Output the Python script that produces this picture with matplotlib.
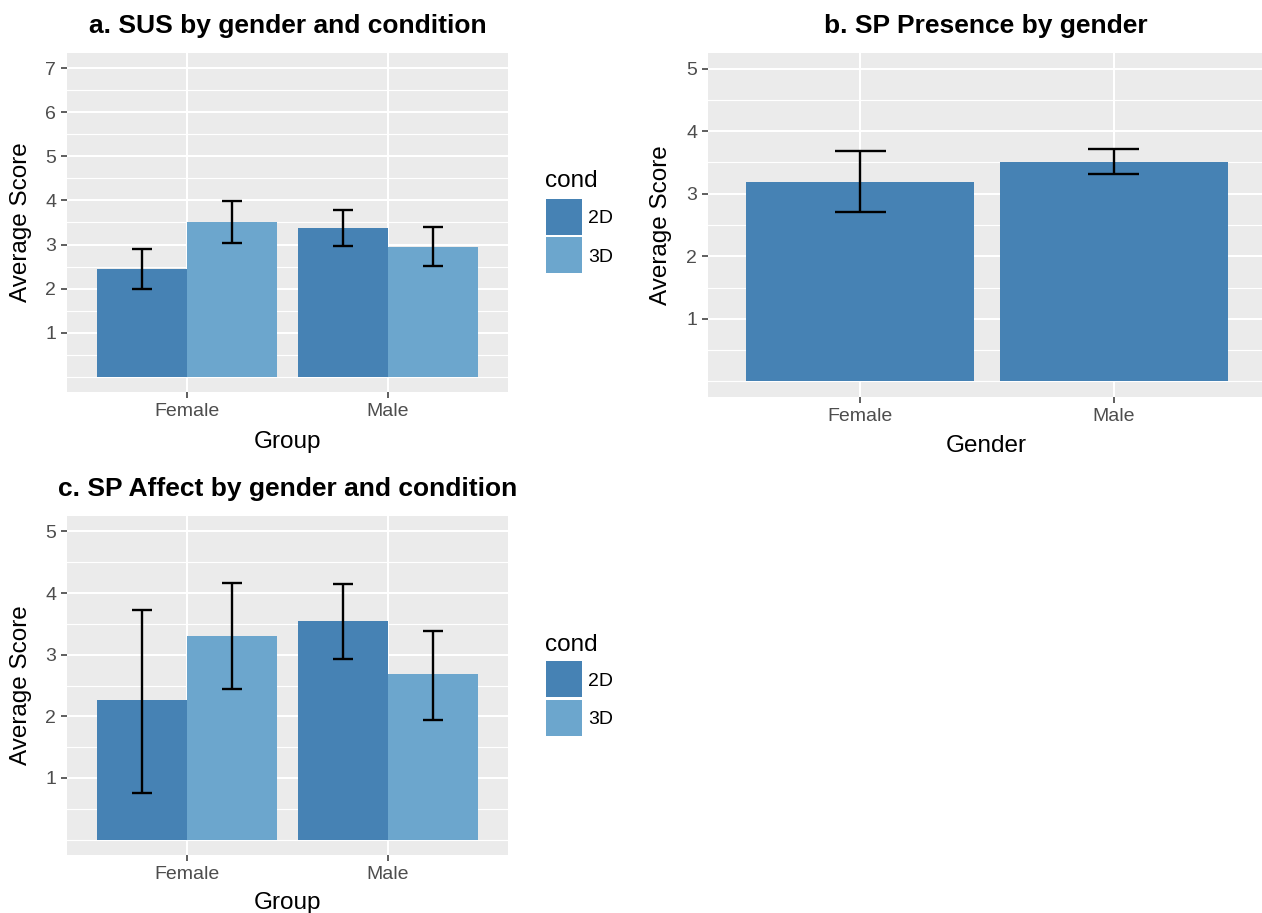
import matplotlib
matplotlib.use("Agg")
import matplotlib.pyplot as plt
from matplotlib.patches import Rectangle
import numpy as np

plt.rcParams['font.family'] = ['Liberation Sans', 'DejaVu Sans']

# ---------------- data ----------------
groups = ["Female", "Male"]
conds = ["2D", "3D"]

# a. SUS
sus_2d_mean = [2.44, 3.37]
sus_2d_low = [2.00, 2.96]
sus_2d_high = [2.90, 3.79]
sus_3d_mean = [3.51, 2.94]
sus_3d_low = [3.03, 2.52]
sus_3d_high = [3.98, 3.39]

# b. SP Presence
pres_mean = [3.19, 3.51]
pres_low = [2.71, 3.31]
pres_high = [3.68, 3.71]

# c. SP Affect
aff_2d_mean = [2.26, 3.54]
aff_2d_low = [0.76, 2.93]
aff_2d_high = [3.73, 4.14]
aff_3d_mean = [3.31, 2.68]
aff_3d_low = [2.44, 1.94]
aff_3d_high = [4.17, 3.39]

C2D = "#4682B4"
C3D = "#6CA6CD"

W, H = 1262, 913
fig = plt.figure(figsize=(W / 100, H / 100), dpi=100)
fig.patch.set_facecolor("white")


def px_axes(l, t, r, b):
    return fig.add_axes([l / W, 1 - b / H, (r - l) / W, (b - t) / H])


def style(ax, ymax):
    ax.set_facecolor("#EBEBEB")
    for s in ax.spines.values():
        s.set_visible(False)
    ax.set_xlim(-0.6, 1.6)
    ax.set_ylim(-0.05 * ymax, ymax * 1.05)
    major = np.arange(1, ymax + 1)
    minor = np.concatenate([[0], np.arange(0.5, ymax, 1.0)])
    ax.set_yticks(major)
    ax.set_yticklabels([str(int(v)) for v in major])
    ax.set_yticks(minor, minor=True)
    ax.set_xticks([0, 1])
    ax.set_xticklabels(groups)
    for v in minor:
        ax.axhline(v, color="white", lw=0.8, zorder=0.5)
    for v in major:
        ax.axhline(v, color="white", lw=1.5, zorder=0.6)
    for v in [0, 1]:
        ax.axvline(v, color="white", lw=1.5, zorder=0.6)
    ax.tick_params(axis="both", which="major", length=4.3, width=1.1,
                   color="#333333", labelcolor="#4D4D4D", labelsize=14, pad=3.5)
    ax.tick_params(axis="y", which="minor", length=0)
    ax.set_axisbelow(True)


def errbars(ax, x, low, high, half):
    x = np.asarray(x, dtype=float)
    ax.vlines(x, low, high, color="black", lw=1.7, zorder=3)
    ax.hlines(low, x - half, x + half, color="black", lw=1.7, zorder=3)
    ax.hlines(high, x - half, x + half, color="black", lw=1.7, zorder=3)


xpos = np.arange(len(groups))
bw = 0.45

# ---- panel a ----
axa = px_axes(67, 53, 508, 392)
style(axa, 7)
axa.bar(xpos - bw / 2, sus_2d_mean, width=bw, color=C2D, zorder=2)
axa.bar(xpos + bw / 2, sus_3d_mean, width=bw, color=C3D, zorder=2)
errbars(axa, xpos - bw / 2, sus_2d_low, sus_2d_high, 0.05)
errbars(axa, xpos + bw / 2, sus_3d_low, sus_3d_high, 0.05)

# ---- panel b ----
axb = px_axes(708, 53, 1266, 397)
style(axb, 5)
axb.bar(xpos, pres_mean, width=0.9, color=C2D, zorder=2)
errbars(axb, xpos, pres_low, pres_high, 0.1)

# ---- panel c ----
axc = px_axes(67, 516, 508, 855)
style(axc, 5)
axc.bar(xpos - bw / 2, aff_2d_mean, width=bw, color=C2D, zorder=2)
axc.bar(xpos + bw / 2, aff_3d_mean, width=bw, color=C3D, zorder=2)
errbars(axc, xpos - bw / 2, aff_2d_low, aff_2d_high, 0.05)
errbars(axc, xpos + bw / 2, aff_3d_low, aff_3d_high, 0.05)


def ftext(x, y, s, **kw):
    fig.text(x / W, 1 - y / H, s, **kw)


# titles
ftext(287.5, 33, "a. SUS by gender and condition", ha="center", va="baseline",
      fontsize=19, fontweight="bold")
ftext(986, 33, "b. SP Presence by gender", ha="center", va="baseline",
      fontsize=19, fontweight="bold")
ftext(287.5, 496, "c. SP Affect by gender and condition", ha="center", va="baseline",
      fontsize=19, fontweight="bold")

# axis titles
ftext(21, 222.5, "Average Score", rotation=90, ha="center", va="center", fontsize=17.5)
ftext(661, 225, "Average Score", rotation=90, ha="center", va="center", fontsize=17.5)
ftext(21, 685.5, "Average Score", rotation=90, ha="center", va="center", fontsize=17.5)
ftext(287.5, 448, "Group", ha="center", va="baseline", fontsize=17.5)
ftext(986, 452, "Gender", ha="center", va="baseline", fontsize=17.5)
ftext(287.5, 909, "Group", ha="center", va="baseline", fontsize=17.5)


# legends
def legend(title_base, key_top):
    ftext(545, title_base, "cond", ha="left", va="baseline", fontsize=17.5)
    tops = [key_top, key_top + 38.5]
    for c, lab, t in zip([C2D, C3D], conds, tops):
        fig.add_artist(Rectangle((546 / W, 1 - (t + 36) / H), 36 / W, 36 / H,
                                 transform=fig.transFigure, color=c, lw=0))
        ftext(588, t + 18 + 6.5, lab, ha="left", va="baseline", fontsize=14)


legend(187, 198.7)
legend(650.7, 661)

fig.savefig("out.png", dpi=100)
